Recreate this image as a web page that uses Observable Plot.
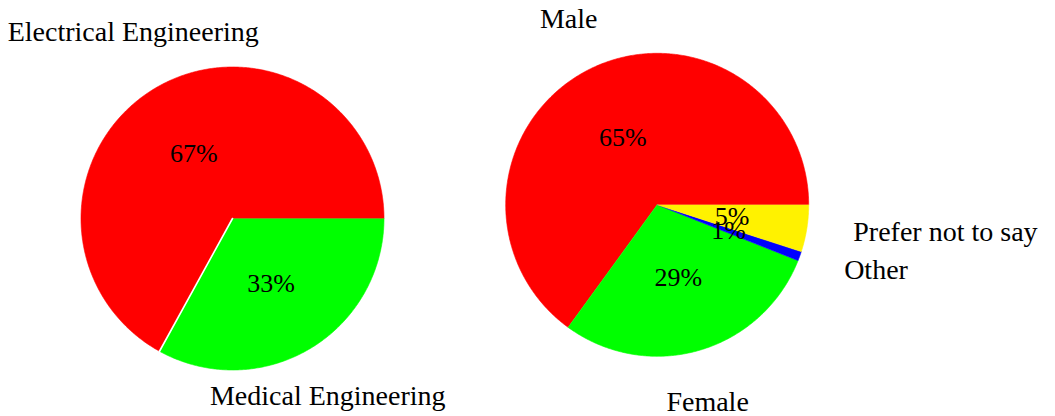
<!DOCTYPE html>
<html><head><meta charset="utf-8">
<script src="https://cdn.jsdelivr.net/npm/d3@7"></script>
<script src="https://cdn.jsdelivr.net/npm/@observablehq/plot@0.6"></script>
<style>html,body{margin:0;padding:0;background:#fff}</style>
</head><body><div id="chart"></div>
<script>
// ---- data ----
const majorLabels = ["Electrical Engineering", "Medical Engineering"];
const majorValues = [67, 33];
const majorColors = ["#ff0000", "#00ff00"];

const genderLabels = ["Male", "Female", "Other", "Prefer not to say"];
const genderValues = [65, 29, 1, 5];
const genderColors = ["#ff0000", "#00ff00", "#0000ff", "#fff200"];

// ---- layout ----
const W = 1055, H = 416, R = 151.5;           // radius in px = 1 data unit
const FONT = "Liberation Serif";
const LABEL_SIZE = 28, PCT_SIZE = 26;
const pies = [
  {labels: majorLabels, values: majorValues, colors: majorColors, cx: 232 / R, cy: 218 / R, seams: [1]},
  {labels: genderLabels, values: genderValues, colors: genderColors, cx: 656.7 / R, cy: 204.3 / R, seams: []}
];
const rad = d => d * Math.PI / 180;

const sliceRows = [], pctRows = [], seamRows = [];
const outer = {middle: [], start: [], end: []};
const pxU = 1 / R; // one pixel in data units

pies.forEach((p, pi) => {
  const total = d3.sum(p.values);
  let cum = 0;
  p.values.forEach((v, i) => {
    const a0 = cum / total * 360, a1 = (cum + v) / total * 360;
    cum += v;
    const id = `${pi}-${i}`;
    sliceRows.push({id, x: p.cx, y: p.cy, color: p.colors[i]});
    const n = Math.max(2, Math.ceil((a1 - a0) / 0.5));
    for (let k = 0; k <= n; k++) {
      const a = rad(a0 + (a1 - a0) * k / n);
      sliceRows.push({id, x: p.cx + Math.cos(a), y: p.cy - Math.sin(a), color: p.colors[i]});
    }
    const m = (a0 + a1) / 2, mr = rad(m);
    pctRows.push({x: p.cx + 0.5 * Math.cos(mr), y: p.cy - 0.5 * Math.sin(mr), text: `${v}%`});
    // outer label, TikZ-like anchoring
    const lr = 1.287;
    const px = p.cx + lr * Math.cos(mr), py = p.cy - lr * Math.sin(mr);
    const label = p.labels[i];
    const sep = 3.5 * pxU;
    const depth = /[gjpqy]/.test(label) ? 0.22 * LABEL_SIZE * pxU : 0;
    const heightN = 0.55 * LABEL_SIZE * pxU;
    const heightW = 0.6 * LABEL_SIZE * pxU;
    const mm = ((m % 360) + 360) % 360;
    if (mm > 45 && mm <= 135) outer.middle.push({x: px, y: py - sep - depth, text: label});
    else if (mm > 225 && mm <= 315) outer.middle.push({x: px - 4 * pxU, y: py + sep + heightN, text: label});
    else if (mm > 135 && mm <= 225) outer.end.push({x: px - sep, y: py + (heightW - depth) / 2, text: label});
    else outer.start.push({x: px + sep, y: py + (heightW - depth) / 2, text: label});
  });
  // white seams at selected slice boundaries
  p.seams.forEach(si => {
    const a = rad(d3.sum(p.values.slice(0, si)) / total * 360);
    seamRows.push({id: `s${pi}-${si}`, x: p.cx, y: p.cy});
    seamRows.push({id: `s${pi}-${si}`, x: p.cx + Math.cos(a), y: p.cy - Math.sin(a)});
  });
});

const textOpts = {x: "x", y: "y", text: "text", fill: "black", fontFamily: FONT, fontSize: LABEL_SIZE, lineAnchor: "bottom"};

const chart = Plot.plot({
  width: W, height: H,
  margin: 0,
  x: {type: "linear", domain: [0, W / R], range: [0, W], axis: null},
  y: {type: "linear", domain: [0, H / R], range: [0, H], axis: null},
  color: {type: "identity"},
  style: {fontFamily: FONT, background: "#fff", overflow: "visible"},
  marks: [
    Plot.line(sliceRows, {x: "x", y: "y", z: "id", fill: "color", stroke: "color", strokeWidth: 0.6, curve: "linear"}),
    Plot.line(seamRows, {x: "x", y: "y", z: "id", stroke: "white", strokeWidth: 1.6}),
    Plot.text(pctRows, {x: "x", y: "y", text: "text", fill: "black", fontFamily: FONT, fontSize: PCT_SIZE, lineAnchor: "middle", textAnchor: "middle"}),
    Plot.text(outer.middle, {...textOpts, textAnchor: "middle"}),
    Plot.text(outer.start, {...textOpts, textAnchor: "start"}),
    Plot.text(outer.end, {...textOpts, textAnchor: "end"})
  ]
});
document.getElementById("chart").appendChild(chart);
</script>
</body></html>
